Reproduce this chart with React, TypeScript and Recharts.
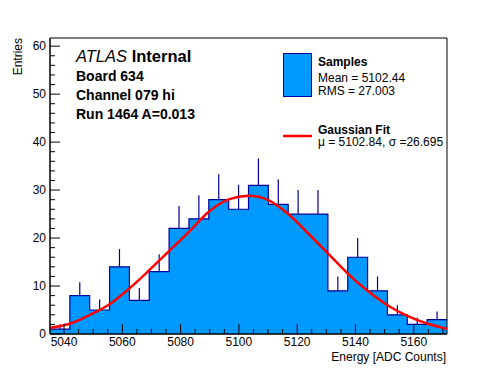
import React from "react";
import {
  ComposedChart,
  Area,
  Line,
  Scatter,
  ErrorBar,
  XAxis,
  YAxis,
  ReferenceArea,
} from "recharts";

// histogram binning (ADC counts)
const binLow = 5035.2;
const binWidth = 6.81;

// entries per bin
const counts = [1, 8, 5, 14, 7, 13, 22, 24, 28, 26, 31, 27, 25, 25, 9, 16, 9, 4, 2, 3];

// upper error bar length per bin
const errUp = [1.0, 2.8, 2.2, 3.7, 2.6, 3.6, 4.7, 4.9, 5.3, 5.1, 5.6, 5.2, 5.0, 5.0, 3.0, 4.0, 3.0, 2.0, 1.4, 1.7];

// gaussian fit curve, read at the bin edges
const fitValues = [
  1.3, 2.15, 3.96, 6.2, 9.5, 13.3, 17.3, 21.3, 25.5, 28.05, 28.8, 27.9, 25.0, 21.0, 16.8, 12.6, 9.0,
  6.0, 3.8, 2.2, 1.1,
];

const xMajorTicks = [5040, 5060, 5080, 5100, 5120, 5140, 5160];
const xMinorTicks = [
  5040, 5045, 5050, 5055, 5060, 5065, 5070, 5075, 5080, 5085, 5090, 5095, 5100, 5105, 5110, 5115,
  5120, 5125, 5130, 5135, 5140, 5145, 5150, 5155, 5160, 5165, 5170,
];
const yMajorTicks = [0, 10, 20, 30, 40, 50, 60];
const yMinorTicks = [
  0, 2, 4, 6, 8, 10, 12, 14, 16, 18, 20, 22, 24, 26, 28, 30, 32, 34, 36, 38, 40, 42, 44, 46, 48,
  50, 52, 54, 56, 58, 60,
];

const xDomain = [binLow, binLow + counts.length * binWidth];
const yDomain = [0, 61.7];

const FONT = "'Liberation Sans', Arial, Helvetica, sans-serif";
const FILL = "#0099ff";
const NAVY = "#000099";

const histData = fitValues.map((f, i) => ({
  x: binLow + i * binWidth,
  hist: counts[Math.min(i, counts.length - 1)],
  fit: f,
}));

const errData = counts.map((c, i) => ({
  x: binLow + (i + 0.5) * binWidth,
  y: c,
  err: [0, errUp[i]],
}));

const YTick = (props: any) => {
  const { x, y, payload } = props;
  const v = payload.value;
  const major = yMajorTicks.includes(v);
  const ax = x + 4;
  return (
    <g>
      <line x1={ax} x2={ax + (major ? 10 : 5)} y1={y} y2={y} stroke="#000" />
      {major && (
        <text x={x} y={y} dy="0.36em" textAnchor="end" fontSize={12} fontFamily={FONT} fill="#000">
          {v}
        </text>
      )}
    </g>
  );
};

const XTick = (props: any) => {
  const { x, y, payload } = props;
  const v = payload.value;
  const major = xMajorTicks.includes(v);
  const ay = y - 4;
  return (
    <g>
      <line x1={x} x2={x} y1={ay} y2={ay - (major ? 10 : 5)} stroke="#000" />
      {major && (
        <text x={x} y={y - 1} dy="0.75em" textAnchor="middle" fontSize={12} fontFamily={FONT} fill="#000">
          {v}
        </text>
      )}
    </g>
  );
};

const Overlay = () => (
  <svg
    width={496}
    height={372}
    style={{ position: "absolute", left: 0, top: 0, pointerEvents: "none" }}
    fontFamily={FONT}
  >
    <text x={76} y={62} fontSize={16.5}>
      <tspan fontStyle="italic">ATLAS</tspan>
      <tspan fontWeight="bold"> Internal</tspan>
    </text>
    <text x={76} y={81} fontSize={14} fontWeight="bold">Board 634</text>
    <text x={76} y={100} fontSize={14} fontWeight="bold">Channel 079 hi</text>
    <text x={76} y={119} fontSize={14} fontWeight="bold">Run 1464 A=0.013</text>

    <rect x={283.5} y={53.5} width={28} height={43} fill={FILL} stroke={NAVY} />
    <text x={318} y={66} fontSize={12} fontWeight="bold">Samples</text>
    <text x={318} y={82} fontSize={12}>Mean = 5102.44</text>
    <text x={318} y={94.5} fontSize={12}>RMS = 27.003</text>

    <line x1={283} x2={312} y1={136} y2={136} stroke="#ff0000" strokeWidth={2.5} />
    <text x={318} y={133.5} fontSize={12} fontWeight="bold">Gaussian Fit</text>
    <text x={318} y={146} fontSize={12}>μ = 5102.84, σ =26.695</text>

    <text x={446} y={361} fontSize={12} textAnchor="end">Energy [ADC Counts]</text>
    <text x={22} y={38} fontSize={12} textAnchor="end" transform="rotate(-90 22 38)">Entries</text>
  </svg>
);

export default function App() {
  return (
    <div style={{ position: "absolute", left: 0, top: 0, width: 496, height: 372, background: "#fff" }}>
      <ComposedChart
        width={496}
        height={372}
        data={histData}
        margin={{ top: 38, right: 49, left: 10, bottom: 8 }}
      >
        <XAxis
          dataKey="x"
          type="number"
          domain={xDomain}
          allowDataOverflow
          ticks={xMinorTicks}
          interval={0}
          tickSize={0}
          tickMargin={4}
          tickLine={false}
          tick={<XTick />}
          axisLine={{ stroke: "#000" }}
          height={30}
        />
        <YAxis
          type="number"
          domain={yDomain}
          allowDataOverflow
          ticks={yMinorTicks}
          interval={0}
          tickSize={0}
          tickMargin={4}
          tickLine={false}
          tick={<YTick />}
          axisLine={{ stroke: "#000" }}
          width={40}
        />
        <Area
          type="stepAfter"
          dataKey="hist"
          fill={FILL}
          fillOpacity={1}
          stroke={NAVY}
          strokeWidth={1.2}
          isAnimationActive={false}
          dot={false}
          activeDot={false}
        />
        <Scatter data={errData} dataKey="y" shape={() => <g />} isAnimationActive={false}>
          <ErrorBar dataKey="err" direction="y" width={0} stroke={NAVY} strokeWidth={1.2} />
        </Scatter>
        <Line
          type="monotone"
          dataKey="fit"
          stroke="#ff0000"
          strokeWidth={2.5}
          dot={false}
          activeDot={false}
          isAnimationActive={false}
        />
        <ReferenceArea
          x1={xDomain[0]}
          x2={xDomain[1]}
          y1={yDomain[0]}
          y2={yDomain[1]}
          fill="none"
          stroke="#000"
          ifOverflow="extendDomain"
        />
      </ComposedChart>
      <Overlay />
    </div>
  );
}
